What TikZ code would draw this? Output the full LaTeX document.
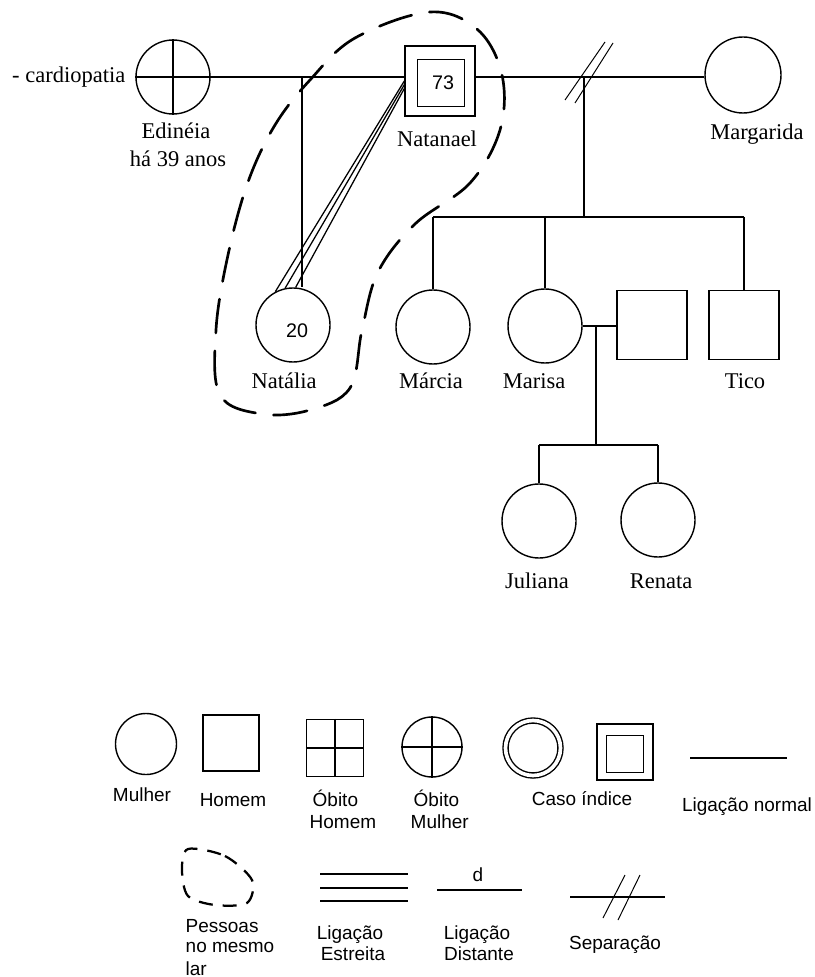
\documentclass[tikz,border=0pt]{standalone}
\usepackage{fontspec}
\setmainfont{Liberation Serif}
\setsansfont{Liberation Sans}
\usetikzlibrary{positioning}
\newcommand{\pxu}{0.025cm}

\begin{document}
\begin{tikzpicture}[x=\pxu,y=-\pxu,line width=1pt,
	female/.style={circle,draw,inner sep=0pt,minimum size=74*\pxu},
	male/.style={rectangle,draw,inner sep=0pt,minimum size=70*\pxu},
	persname/.style={anchor=base,inner sep=0pt,font=\fontsize{16}{19}\selectfont},
	age/.style={inner sep=0pt,font=\sffamily\fontsize{14}{16}\selectfont},
	legendtext/.style={anchor=base,inner sep=0pt,font=\sffamily\fontsize{13.5}{16}\selectfont},
	household/.style={line width=1.9pt,line cap=round,dash pattern=on 0.85cm off 0.45cm}]

	\useasboundingbox (0,0) rectangle (814,977);

	% First generation
	\node[female] (edineia) at (173,77) {};
	\draw (edineia.north) -- (edineia.south) (edineia.west) -- (edineia.east);
	\node[persname,anchor=base east] (cardio) at (126,83) {- cardiopatia};
	\node[persname] (edineialbl) at (176,139) {Edinéia};
	\node[persname] (edineiaage) at (178,167) {há 39 anos};

	\node[male] (natanael) at (440,81) {};
	\node[male,minimum size=47*\pxu] (natanaelin) at (441,83) {};
	\node[age] (natanaelage) at (443,83) {73};
	\node[persname] (natanaellbl) at (437,147) {Natanael};

	\node[female,minimum size=76*\pxu] (margarida) at (743,75) {};
	\node[persname] (margaridalbl) at (757,140) {Margarida};

	% Couple lines
	\draw (edineia.east) -- (edineia.east -| natanael.west);
	\draw (natanael.east |- edineia.east) -- (margarida.west |- edineia.east);

	% Natalia + close link
	\coordinate (ednat) at (302,77);
	\node[female] (natalia) at (293,325) {};
	\node[age] (nataliaage) at (297,331) {20};
	\node[persname] (natalialbl) at (284,388) {Natália};
	\draw (ednat) -- (ednat |- natalia.north);
	\draw[line width=0.9pt] (natanael.180) -- (natalia.118) (natanael.186) -- (natalia.102) (natanael.192) -- (natalia.86);

	% Separation + children
	\coordinate (sepmid) at (584,77);
	\coordinate (sib) at (584,217);
	\draw (sepmid) -- (sib);
	\draw[line width=0.7pt] ([shift={(-19,23)}]sepmid) -- ++(40,-58);
	\draw[line width=0.7pt] ([shift={(-9,26)}]sepmid) -- ++(38,-60);

	\node[female] (marcia) at (433,327) {};
	\node[female] (marisa) at (545,326) {};
	\node[male,minimum height=69*\pxu] (marido) at (652,325) {};
	\node[male,minimum height=69*\pxu] (tico) at (744,325) {};
	\node[persname] (marcialbl) at (431,388) {Márcia};
	\node[persname] (marisalbl) at (534,388) {Marisa};
	\node[persname] (ticolbl) at (745,388) {Tico};
	\draw (marcia.north |- sib) -- (tico.north |- sib);
	\foreach \c in {marcia,marisa,tico}
		\draw (\c.north |- sib) -- (\c.north);

	% Marisa + grandchildren
	\draw (marisa.east) -- (marisa.east -| marido.west);
	\coordinate (mm) at (596,326);
	\coordinate (jrsib) at (596,445);
	\draw (mm) -- (jrsib);
	\node[female] (juliana) at (539,521) {};
	\node[female] (renata) at (658,520) {};
	\node[persname] (julianalbl) at (537,588) {Juliana};
	\node[persname] (renatalbl) at (661,588) {Renata};
	\draw (juliana.north |- jrsib) -- (renata.north |- jrsib);
	\foreach \c in {juliana,renata}
		\draw (\c.north |- jrsib) -- (\c.north);

	% Household
	\draw[household] plot[smooth cycle,tension=0.6] coordinates {(430,12) (478,30) (502,75) (500,130) (470,183) (415,224) (378,272) (362,330) (350,388) (310,410) (262,414) (220,395) (216,330) (228,255) (248,182) (275,125) (310,80) (355,38)};

	% Legend - first row
	\node[female,minimum size=61*\pxu] (lgmulher) at (146,744) {};
	\node[legendtext] (lgmulherlbl) at (142,801) {Mulher};
	\node[male,minimum size=56*\pxu] (lghomem) at (231,743) {};
	\node[legendtext] (lghomemlbl) at (233,806) {Homem};
	\node[male,minimum size=57*\pxu] (lgobitoh) at (335,748) {};
	\draw (lgobitoh.north) -- (lgobitoh.south) (lgobitoh.west) -- (lgobitoh.east);
	\node[legendtext,anchor=base west] (lgobitohlbla) at (312,806) {Óbito};
	\node[legendtext,anchor=base west] (lgobitohlblb) at (309,828) {Homem};
	\node[female,minimum size=60*\pxu] (lgobitom) at (432,747) {};
	\draw (lgobitom.north) -- (lgobitom.south) (lgobitom.west) -- (lgobitom.east);
	\node[legendtext,anchor=base west] (lgobitomlbla) at (413,806) {Óbito};
	\node[legendtext,anchor=base west] (lgobitomlblb) at (410,828) {Mulher};
	\node[female,minimum size=55*\pxu,double,double distance=2.6pt] (lgcaso) at (533,748) {};
	\node[legendtext] (lgcasolbl) at (582,805) {Caso índice};
	\node[male,minimum size=56*\pxu] (lgcasoh) at (625,752) {};
	\node[male,minimum size=37*\pxu] (lgcasohin) at (625,754) {};
	\draw (690,758) -- (787,758);
	\node[legendtext] (lgnormallbl) at (747,811) {Ligação normal};

	% Legend - second row
	\draw[line width=1.6pt,dash pattern=on 0.35cm off 0.25cm] plot[smooth cycle] coordinates {(188,849) (225,856) (252,880) (247,903) (215,905) (188,896) (182,870)};
	\node[legendtext,anchor=base west] (lglara) at (185,932) {Pessoas};
	\node[legendtext,anchor=base west] (lglarb) at (185,952) {no mesmo};
	\node[legendtext,anchor=base west] (lglarc) at (185,975) {lar};

	\foreach \y in {874,888,901}
		\draw[line width=2pt] (320,\y) -- (408,\y);
	\node[legendtext] (lgestra) at (350,939) {Ligação};
	\node[legendtext] (lgestrb) at (353,960) {Estreita};

	\draw[line width=2pt] (437,890) -- (522,890);
	\node[legendtext] (lgdist) at (478,881) {d};
	\node[legendtext] (lgdista) at (477,939) {Ligação};
	\node[legendtext] (lgdistb) at (479,960) {Distante};

	\draw (570,897) -- (665,897);
	\draw[line width=0.7pt] (603,918) -- (625,875) (618,920) -- (640,875);
	\node[legendtext] (lgseplbl) at (615,949) {Separação};

\end{tikzpicture}
\end{document}
